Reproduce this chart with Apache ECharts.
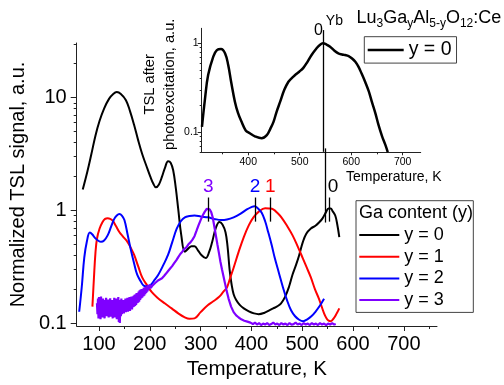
<!DOCTYPE html>
<html lang="en">
<head>
<meta charset="UTF-8">
<title>TSL glow curves</title>
<script src="https://cdn.jsdelivr.net/npm/echarts@6/dist/echarts.min.js"></script>
<style>
  html, body { margin: 0; padding: 0; background: #fff; }
  #chart { width: 504px; height: 385px; }
</style>
</head>
<body>
<div id="chart"></div>
<script>
    // temperatures (K) and normalized TSL values
    var t0 = [68, 77, 85, 93, 101, 110, 120, 128, 135, 143, 153, 161, 169, 177, 185, 193, 201, 207, 212, 218, 224, 230, 236, 241, 246, 251, 256, 262, 269, 276, 282, 288, 295, 302, 310, 317, 323, 330, 337, 343, 349, 353, 357, 361, 365, 370, 377, 385, 395, 405, 414, 425, 436, 443, 450, 458, 466, 474, 481, 488, 494, 501, 508, 517, 526, 533, 540, 546, 552, 556, 560, 565, 569, 573];
    var v0 = [1.53, 2.2, 3.16, 4.6, 6.2, 8.0, 9.8, 10.8, 11.2, 10.8, 9.5, 7.6, 5.75, 4.2, 3.16, 2.5, 1.99, 1.72, 1.6, 1.7, 1.99, 2.4, 2.73, 2.65, 2.27, 1.6, 1.02, 0.6, 0.43, 0.46, 0.48, 0.48, 0.44, 0.4, 0.377, 0.43, 0.53, 0.7, 0.79, 0.75, 0.64, 0.48, 0.3, 0.22, 0.18, 0.16, 0.145, 0.135, 0.127, 0.122, 0.12, 0.123, 0.13, 0.135, 0.14, 0.149, 0.17, 0.21, 0.27, 0.33, 0.4, 0.52, 0.62, 0.69, 0.73, 0.78, 0.85, 0.95, 1.04, 1.04, 0.98, 0.9, 0.75, 0.58];

    var t1 = [87, 90, 93, 96, 101, 107, 112, 117, 122, 127, 133, 140, 148, 156, 162, 169, 177, 185, 195, 204, 215, 230, 243, 256, 268, 278, 288, 300, 314, 325, 336, 345, 352, 358, 365, 375, 385, 395, 404, 415, 427, 435, 443, 451, 459, 470, 481, 491, 501, 509, 517, 525, 533, 543, 548, 552, 556, 562, 568, 573];
    var v1 = [0.14, 0.25, 0.42, 0.56, 0.687, 0.79, 0.84, 0.85, 0.84, 0.81, 0.73, 0.643, 0.58, 0.526, 0.47, 0.404, 0.32, 0.254, 0.215, 0.188, 0.168, 0.149, 0.135, 0.122, 0.113, 0.109, 0.11, 0.125, 0.144, 0.156, 0.17, 0.19, 0.208, 0.25, 0.31, 0.43, 0.58, 0.74, 0.867, 0.98, 1.045, 1.04, 1.02, 0.95, 0.867, 0.73, 0.6, 0.48, 0.377, 0.31, 0.254, 0.2, 0.164, 0.122, 0.11, 0.105, 0.104, 0.11, 0.122, 0.135];

    var t2 = [61, 66, 71, 76, 82, 87, 92, 98, 104, 110, 117, 124, 130, 135, 140, 145, 150, 156, 162, 169, 175, 182, 188, 195, 201, 209, 217, 227, 236, 244, 253, 261, 269, 278, 288, 301, 314, 327, 340, 352, 365, 378, 391, 400, 406, 413, 420, 427, 433, 440, 446, 454, 462, 470, 478, 486, 494, 502, 510, 518, 526, 535, 543];
    var v2 = [0.126, 0.208, 0.38, 0.526, 0.635, 0.61, 0.57, 0.54, 0.526, 0.54, 0.6, 0.72, 0.84, 0.9, 0.927, 0.9, 0.82, 0.62, 0.46, 0.34, 0.27, 0.235, 0.215, 0.212, 0.217, 0.24, 0.27, 0.33, 0.404, 0.52, 0.687, 0.8, 0.867, 0.89, 0.9, 0.88, 0.867, 0.84, 0.82, 0.83, 0.867, 0.93, 1.02, 1.07, 1.09, 1.04, 0.957, 0.8, 0.643, 0.49, 0.377, 0.28, 0.208, 0.16, 0.13, 0.115, 0.107, 0.104, 0.108, 0.115, 0.126, 0.143, 0.164];

    var t3 = [96, 97, 98, 99, 100, 101, 102, 103, 104, 105, 106, 107, 108, 109, 110, 111, 112, 113, 114, 115, 116, 117, 118, 119, 120, 121, 122, 123, 124, 125, 126, 127, 128, 129, 130, 131, 132, 133, 134, 135, 136, 137, 138, 139, 140, 141, 142, 143, 144, 145, 146, 147, 148, 149, 150, 151, 152, 153, 154, 155, 156, 157, 158, 159, 160, 161, 162, 163, 164, 165, 166, 167, 168, 169, 170, 171, 172, 173, 174, 175, 176, 177, 178, 179, 180, 181, 182, 183, 184, 185, 186, 187, 188, 189, 190, 191, 192, 193, 194, 195, 196, 197, 198, 199, 200,
              202, 205, 208, 211, 214, 217, 220, 224, 228, 232, 236, 240, 244, 248, 252, 256, 260, 264, 268, 272, 276, 280, 284, 288, 292, 296, 300, 304, 308, 312, 315, 318, 321, 324, 327, 330, 333, 336, 339, 342, 345, 348, 351, 355, 360, 365, 370, 375, 380, 386, 392, 398,
              403, 407, 411, 415, 419, 423, 427, 431, 435, 439, 443, 447, 451, 455, 459, 463, 467, 471, 475, 479, 483, 487, 491, 495, 499, 503, 507, 511, 515, 519, 523, 527, 531, 535, 539, 543, 547, 551, 555, 559, 563, 566];
    var v3 = [0.15, 0.12, 0.165, 0.11, 0.17, 0.125, 0.16, 0.108, 0.172, 0.118, 0.15, 0.112, 0.165, 0.13, 0.16, 0.11, 0.155, 0.12, 0.168, 0.115, 0.15, 0.125, 0.162, 0.112, 0.158, 0.118, 0.166, 0.114, 0.152, 0.12, 0.16, 0.11, 0.155, 0.125, 0.168, 0.112, 0.15, 0.118, 0.165, 0.108, 0.158, 0.12, 0.17, 0.102, 0.16, 0.1, 0.155, 0.115, 0.165, 0.12, 0.155, 0.125, 0.16, 0.122, 0.158, 0.128, 0.165, 0.125, 0.16, 0.13, 0.168, 0.126, 0.162, 0.132, 0.17, 0.128, 0.165, 0.135, 0.172, 0.132, 0.168, 0.138, 0.175, 0.14, 0.178, 0.142, 0.18, 0.145, 0.185, 0.15, 0.182, 0.152, 0.19, 0.155, 0.195, 0.16, 0.198, 0.165, 0.2, 0.168, 0.2, 0.172, 0.205, 0.175, 0.208, 0.18, 0.21, 0.185, 0.212, 0.19, 0.215, 0.195, 0.218, 0.2, 0.22,
              0.205, 0.215, 0.21, 0.228, 0.225, 0.24, 0.238, 0.25, 0.262, 0.275, 0.29, 0.305, 0.32, 0.34, 0.36, 0.385, 0.41, 0.43, 0.455, 0.47, 0.5, 0.52, 0.55, 0.59, 0.66, 0.74, 0.82, 0.9, 0.97, 1.03, 1.04, 1.02, 0.96, 0.86, 0.72, 0.6, 0.5, 0.42, 0.35, 0.3, 0.26, 0.225, 0.195, 0.165, 0.14, 0.125, 0.117, 0.112, 0.108, 0.105, 0.103, 0.101,
              0.098, 0.101, 0.097, 0.1, 0.096, 0.099, 0.097, 0.1, 0.096, 0.098, 0.101, 0.097, 0.099, 0.096, 0.1, 0.097, 0.099, 0.096, 0.1, 0.097, 0.098, 0.101, 0.097, 0.099, 0.096, 0.1, 0.097, 0.099, 0.096, 0.1, 0.097, 0.099, 0.096, 0.1, 0.097, 0.099, 0.096, 0.099, 0.097, 0.1, 0.097, 0.098];

    // inset: TSL after photoexcitation, y = 0
    var tIn = [310, 316, 322, 332, 339, 347, 355, 361, 367, 374, 380, 387, 395, 403, 413, 426, 436, 443, 449, 455, 462, 470, 478, 485, 491, 499, 507, 515, 523, 532, 539, 545, 552, 559, 567, 575, 582, 588, 595, 601, 608, 614, 620, 627, 634, 640, 647, 653, 660, 666, 671];
    var vIn = [0.115, 0.241, 0.44, 0.71, 0.84, 0.863, 0.77, 0.57, 0.36, 0.221, 0.165, 0.131, 0.105, 0.0975, 0.09, 0.0857, 0.093, 0.11, 0.131, 0.17, 0.221, 0.3, 0.37, 0.41, 0.44, 0.48, 0.53, 0.62, 0.74, 0.87, 0.96, 1.0, 0.97, 0.916, 0.83, 0.77, 0.75, 0.74, 0.72, 0.68, 0.62, 0.546, 0.46, 0.37, 0.29, 0.221, 0.163, 0.121, 0.09, 0.073, 0.06];

    var seriesNames = ['y = 0', 'y = 1', 'y = 2', 'y = 3'];
    var seriesColors = ['#000000', '#ff0000', '#0000ff', '#7f00ff'];
    var peakT = [553, 437, 407, 315];      // peak markers 0, 1, 2, 3
    var ybLineT = 546;

    var mainXTicks = [100, 200, 300, 400, 500, 600, 700];
    var mainXMinor = [150, 250, 350, 450, 550, 650, 750];
    var mainYTicks = [0.1, 1, 10];
    var mainYMinor = [0.2, 0.3, 0.4, 0.5, 0.6, 0.7, 0.8, 0.9, 2, 3, 4, 5, 6, 7, 8, 9, 20, 30];
    var insetXTicks = [400, 500, 600, 700];
    var insetXMinor = [350, 450, 550, 650];
    var insetYTicks = [0.1, 1];
    var insetYMinor = [0.06, 0.07, 0.08, 0.09, 0.2, 0.3, 0.4, 0.5, 0.6, 0.7, 0.8, 0.9];

    var font = 'Liberation Sans, Arial, sans-serif';
    var axisColor = '#222';

    function lg(arr) { return arr.map(function (v) { return Math.log10(v); }); }
    function pts(t, v) { return t.map(function (x, i) { return [x, Math.log10(v[i])]; }); }
    function logLabel(v) { return String(+Math.pow(10, v).toPrecision(2)); }

    function xAx(grid, min, max, ticks, len, labelSize, extra) {
        var ax = {
            gridIndex: grid, type: 'value', min: min, max: max, position: 'bottom',
            axisLine: { show: !!labelSize, onZero: false, lineStyle: { color: axisColor, width: 1 } },
            axisTick: { length: len, customValues: ticks, lineStyle: { color: axisColor } },
            axisLabel: labelSize ? { fontSize: labelSize, color: '#000', margin: labelSize > 15 ? 8 : 4, customValues: ticks, fontFamily: font } : { show: false },
            splitLine: { show: false }
        };
        return Object.assign(ax, extra || {});
    }
    function yAx(grid, min, max, ticks, len, labelSize, extra) {
        var ax = {
            gridIndex: grid, type: 'value', min: min, max: max, position: 'left',
            axisLine: { show: !!labelSize, onZero: false, lineStyle: { color: axisColor, width: 1 } },
            axisTick: { length: len, customValues: lg(ticks), lineStyle: { color: axisColor } },
            axisLabel: labelSize ? { fontSize: labelSize, color: '#000', margin: labelSize > 15 ? 10 : 3, customValues: lg(ticks), formatter: logLabel, fontFamily: font } : { show: false },
            splitLine: { show: false }
        };
        return Object.assign(ax, extra || {});
    }

    var series = [];
    for (var i = 0; i < 4; i++) {
        var tt = [t0, t1, t2, t3][i], vv = [v0, v1, v2, v3][i];
        var lines = [[
            { coord: [peakT[i], -0.1], label: { show: true, position: 'end', distance: 1, formatter: String(i), color: seriesColors[i], fontSize: 19, fontFamily: font, padding: i === 0 ? [0, 0, 0, 8] : 0 } },
            { coord: [peakT[i], 0.114] }
        ]];
        if (i === 0) {
            lines.push([{ coord: [ybLineT, -0.108], label: { show: false } }, { coord: [ybLineT, 0.55] }]);
        }
        series.push({
            name: seriesNames[i], type: 'line', xAxisIndex: 0, yAxisIndex: 0,
            data: pts(tt, vv), symbol: 'none', smooth: i === 3 ? false : 0.4,
            lineStyle: { color: seriesColors[i], width: i === 3 ? 2.2 : 2 },
            itemStyle: { color: seriesColors[i] },
            markLine: {
                silent: true, symbol: ['none', 'none'], animation: false,
                lineStyle: { color: '#000', width: 1.3, type: 'solid' },
                label: { show: false },
                data: lines
            }
        });
    }
    series.push({
        name: 'y = 0', type: 'line', xAxisIndex: 2, yAxisIndex: 2,
        data: pts(tIn, vIn), symbol: 'none', smooth: 0.4,
        lineStyle: { color: '#000', width: 2.5 }, itemStyle: { color: '#000' },
        markLine: {
            silent: true, symbol: ['none', 'none'], animation: false,
            lineStyle: { color: '#000', width: 1.3, type: 'solid' },
            label: { show: false },
            data: [[{ coord: [ybLineT, -1.22] }, { coord: [ybLineT, 0.149] }]]
        },
        markPoint: {
            silent: true, symbol: 'circle', symbolSize: 0, animation: false,
            label: {
                show: true, position: 'inside', offset: [5, 1],
                formatter: '{a|0}{s|}{b|Yb}',
                rich: {
                    a: { fontSize: 16, lineHeight: 34, color: '#000', fontFamily: font },
                    s: { width: 3 },
                    b: { fontSize: 14, lineHeight: 14, verticalAlign: 'top', color: '#000', fontFamily: font }
                }
            },
            data: [{ coord: [ybLineT, 0.149] }]
        }
    });

    var option = {
        animation: false,
        textStyle: { fontFamily: font, color: '#000' },
        grid: [
            { left: 70, top: 43, width: 367, height: 290 },
            { left: 201.7, top: 28.3, width: 219, height: 124 }
        ],
        xAxis: [
            xAx(0, 56.1, 765.3, mainXTicks, 5, 20, {
                name: 'Temperature, K', nameLocation: 'middle', nameGap: 33,
                nameTextStyle: { fontSize: 20.5, color: '#000', fontFamily: font }
            }),
            xAx(0, 56.1, 765.3, mainXMinor, 3, 0),
            xAx(1, 309.5, 735, insetXTicks, 3, 10.5, {
                name: 'Temperature, K', nameLocation: 'end', nameGap: 21,
                nameTextStyle: { fontSize: 14, color: '#000', fontFamily: font, align: 'right', verticalAlign: 'top', padding: [18, 0, 0, 0] }
            }),
            xAx(1, 309.5, 735, insetXMinor, 2, 0)
        ],
        yAxis: [
            yAx(0, -1.026, 1.485, mainYTicks, 6, 20, {
                name: 'Normalized TSL signal, a.u.', nameLocation: 'middle', nameGap: 40,
                nameTextStyle: { fontSize: 20, color: '#000', fontFamily: font }
            }),
            yAx(0, -1.026, 1.485, mainYMinor, 3, 0),
            yAx(1, -1.225, 0.169, insetYTicks, 4, 10.5, {
                name: 'TSL after\nphotoexcitation, a.u.', nameLocation: 'middle', nameGap: 21,
                nameTextStyle: { fontSize: 14.7, lineHeight: 20, color: '#000', fontFamily: font, padding: [0, 0, 0, 12] }
            }),
            yAx(1, -1.225, 0.169, insetYMinor, 2, 0)
        ],
        legend: [
            {
                data: seriesNames, orient: 'vertical', left: 356, top: 200.7,
                padding: [25.3, 29.5, 3.3, 3.3], itemGap: 3.7, itemWidth: 40, itemHeight: 2,
                icon: 'rect', itemStyle: { borderWidth: 0 },
                borderColor: '#444', borderWidth: 1, selectedMode: false,
                textStyle: { fontSize: 18, color: '#000', fontFamily: font }
            },
            {
                data: ['y = 0'], left: 364.3, top: 36.7,
                padding: [3.2, 5, 3.2, 3.4], itemWidth: 36, itemHeight: 2.5,
                icon: 'rect', itemStyle: { borderWidth: 0 },
                borderColor: '#444', borderWidth: 1, selectedMode: false,
                textStyle: { fontSize: 19.5, color: '#000', fontFamily: font }
            }
        ],
        graphic: [
            {
                type: 'text', left: 359, top: 204,
                style: { text: 'Ga content (y)', fontSize: 18, fontFamily: font, fill: '#000' }
            },
            {
                type: 'text', left: 356.5, top: 9,
                style: {
                    text: '{n|Lu}{s|3}{n|Ga}{s|y}{n|Al}{s|5-y}{n|O}{s|12}{n|:Ce}',
                    fontFamily: font, fill: '#000',
                    rich: {
                        n: { fontSize: 18, lineHeight: 24, fontFamily: font, fill: '#000' },
                        s: { fontSize: 12, lineHeight: 12, verticalAlign: 'bottom', fontFamily: font, fill: '#000' }
                    }
                }
            }
        ],
        series: series
    };

    echarts.init(document.getElementById('chart')).setOption(option);
</script>
</body>
</html>
